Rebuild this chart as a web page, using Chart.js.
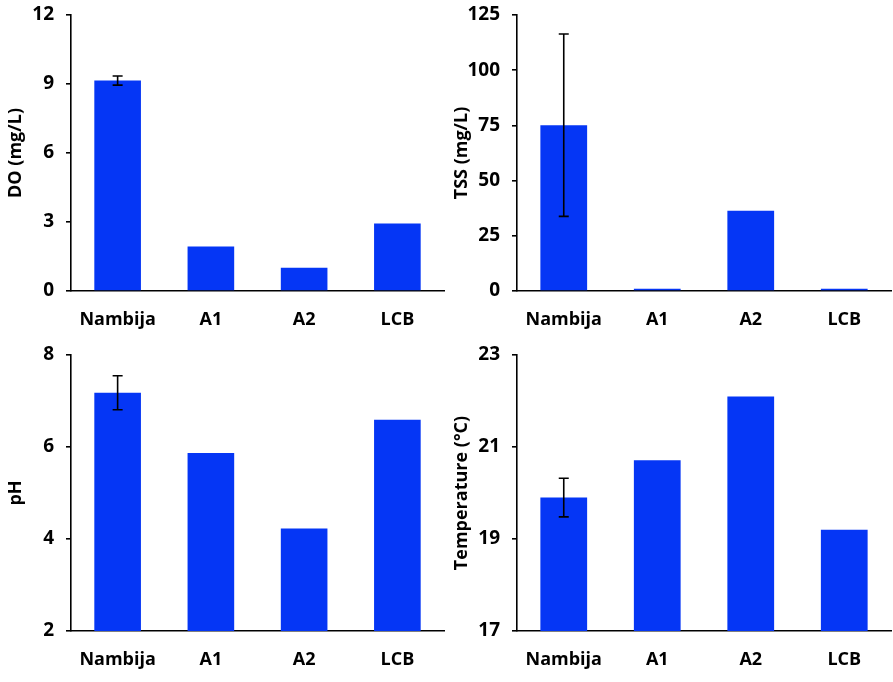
<!DOCTYPE html>
<html>
<head>
<meta charset="utf-8">
<script src="https://cdn.jsdelivr.net/npm/chart.js@4.4.1/dist/chart.umd.min.js"></script>
<style>
    html, body { margin: 0; padding: 0; background: #fff; }
    #wrap { position: relative; width: 893px; height: 682px; }
    .panel { position: absolute; }
</style>
</head>
<body>
<div id="wrap">
    <div class="panel" style="left:0;top:0;width:446px;height:340px;"><canvas id="do-chart"></canvas></div>
    <div class="panel" style="left:446px;top:0;width:447px;height:340px;"><canvas id="tss-chart"></canvas></div>
    <div class="panel" style="left:0;top:340px;width:446px;height:342px;"><canvas id="ph-chart"></canvas></div>
    <div class="panel" style="left:446px;top:340px;width:447px;height:342px;"><canvas id="temp-chart"></canvas></div>
</div>
<script>
// sites along the x axis
const sites = ['Nambija', 'A1', 'A2', 'LCB'];

// values (error = +/- half length of the bar)
const doValues = [9.15, 1.93, 1.01, 2.93];
const doErrors = [0.2, 0, 0, 0];

const tssValues = [75.1, 1.0, 36.3, 1.0];
const tssErrors = [41.3, 0, 0, 0];

const phValues = [7.18, 5.87, 4.23, 6.59];
const phErrors = [0.37, 0, 0, 0];

const tempValues = [19.9, 20.71, 22.1, 19.2];
const tempErrors = [0.42, 0, 0, 0];

const FONT = "'Open Sans', 'DejaVu Sans', sans-serif";
const BAR_BLUE = '#0536f5';

// draws the error bars through the chart's own scales
const errorBarPlugin = {
    id: 'errorBars',
    afterDatasetsDraw(chart, args, opts) {
        const errs = opts.errors || [];
        const vals = chart.data.datasets[0].data;
        const xs = chart.scales.x, ys = chart.scales.y;
        const ctx = chart.ctx;
        ctx.save();
        ctx.strokeStyle = '#000';
        ctx.lineWidth = 1.6;
        errs.forEach((e, i) => {
            if (!e) return;
            const x = xs.getPixelForValue(i);
            const top = ys.getPixelForValue(vals[i] + e);
            const bot = ys.getPixelForValue(vals[i] - e);
            ctx.beginPath();
            ctx.moveTo(x, top); ctx.lineTo(x, bot);
            ctx.moveTo(x - 5, top); ctx.lineTo(x + 5, top);
            ctx.moveTo(x - 5, bot); ctx.lineTo(x + 5, bot);
            ctx.stroke();
        });
        ctx.restore();
    }
};

function makePanel(id, values, errors, title, min, max, step, canvasHeight) {
    const ctx = document.getElementById(id).getContext('2d');
    return new Chart(ctx, {
        type: 'bar',
        data: {
            labels: sites,
            datasets: [{
                data: values,
                backgroundColor: BAR_BLUE,
                borderWidth: 0,
                barPercentage: 0.5,
                categoryPercentage: 1.0
            }]
        },
        options: {
            responsive: true,
            maintainAspectRatio: false,
            animation: false,
            layout: { padding: { left: 0, right: 2, top: 15, bottom: 0 } },
            plugins: {
                legend: { display: false },
                tooltip: { enabled: false },
                errorBars: { errors: errors }
            },
            scales: {
                x: {
                    grid: { display: false, drawTicks: false },
                    border: { display: true, color: '#000', width: 1.6 },
                    ticks: {
                        color: '#000',
                        padding: 18,
                        font: { family: FONT, size: 18, weight: 'bold' }
                    },
                    afterFit: (scale) => { scale.height = canvasHeight - 291; }
                },
                y: {
                    min: min,
                    max: max,
                    grid: { drawOnChartArea: false, drawTicks: true, tickLength: 5, color: '#000', lineWidth: 1.6 },
                    border: { display: true, color: '#000', width: 1.6 },
                    ticks: {
                        stepSize: step,
                        color: '#000',
                        padding: 12,
                        font: { family: FONT, size: 19, weight: 'bold' }
                    },
                    title: {
                        display: true,
                        text: title,
                        color: '#000',
                        padding: { top: 5, bottom: 0 },
                        font: { family: FONT, size: 18, weight: 'bold' }
                    },
                    afterFit: (scale) => {
                        scale.width = 71;
                        // layout padding already leaves room for the top label
                        scale.paddingTop = 0;
                        scale.paddingBottom = 0;
                    }
                }
            }
        },
        plugins: [errorBarPlugin]
    });
}

makePanel('do-chart', doValues, doErrors, 'DO (mg/L)', 0, 12, 3, 340);
makePanel('tss-chart', tssValues, tssErrors, 'TSS (mg/L)', 0, 125, 25, 340);
makePanel('ph-chart', phValues, phErrors, 'pH', 2, 8, 2, 342);
makePanel('temp-chart', tempValues, tempErrors, 'Temperature (°C)', 17, 23, 2, 342);
</script>
</body>
</html>
